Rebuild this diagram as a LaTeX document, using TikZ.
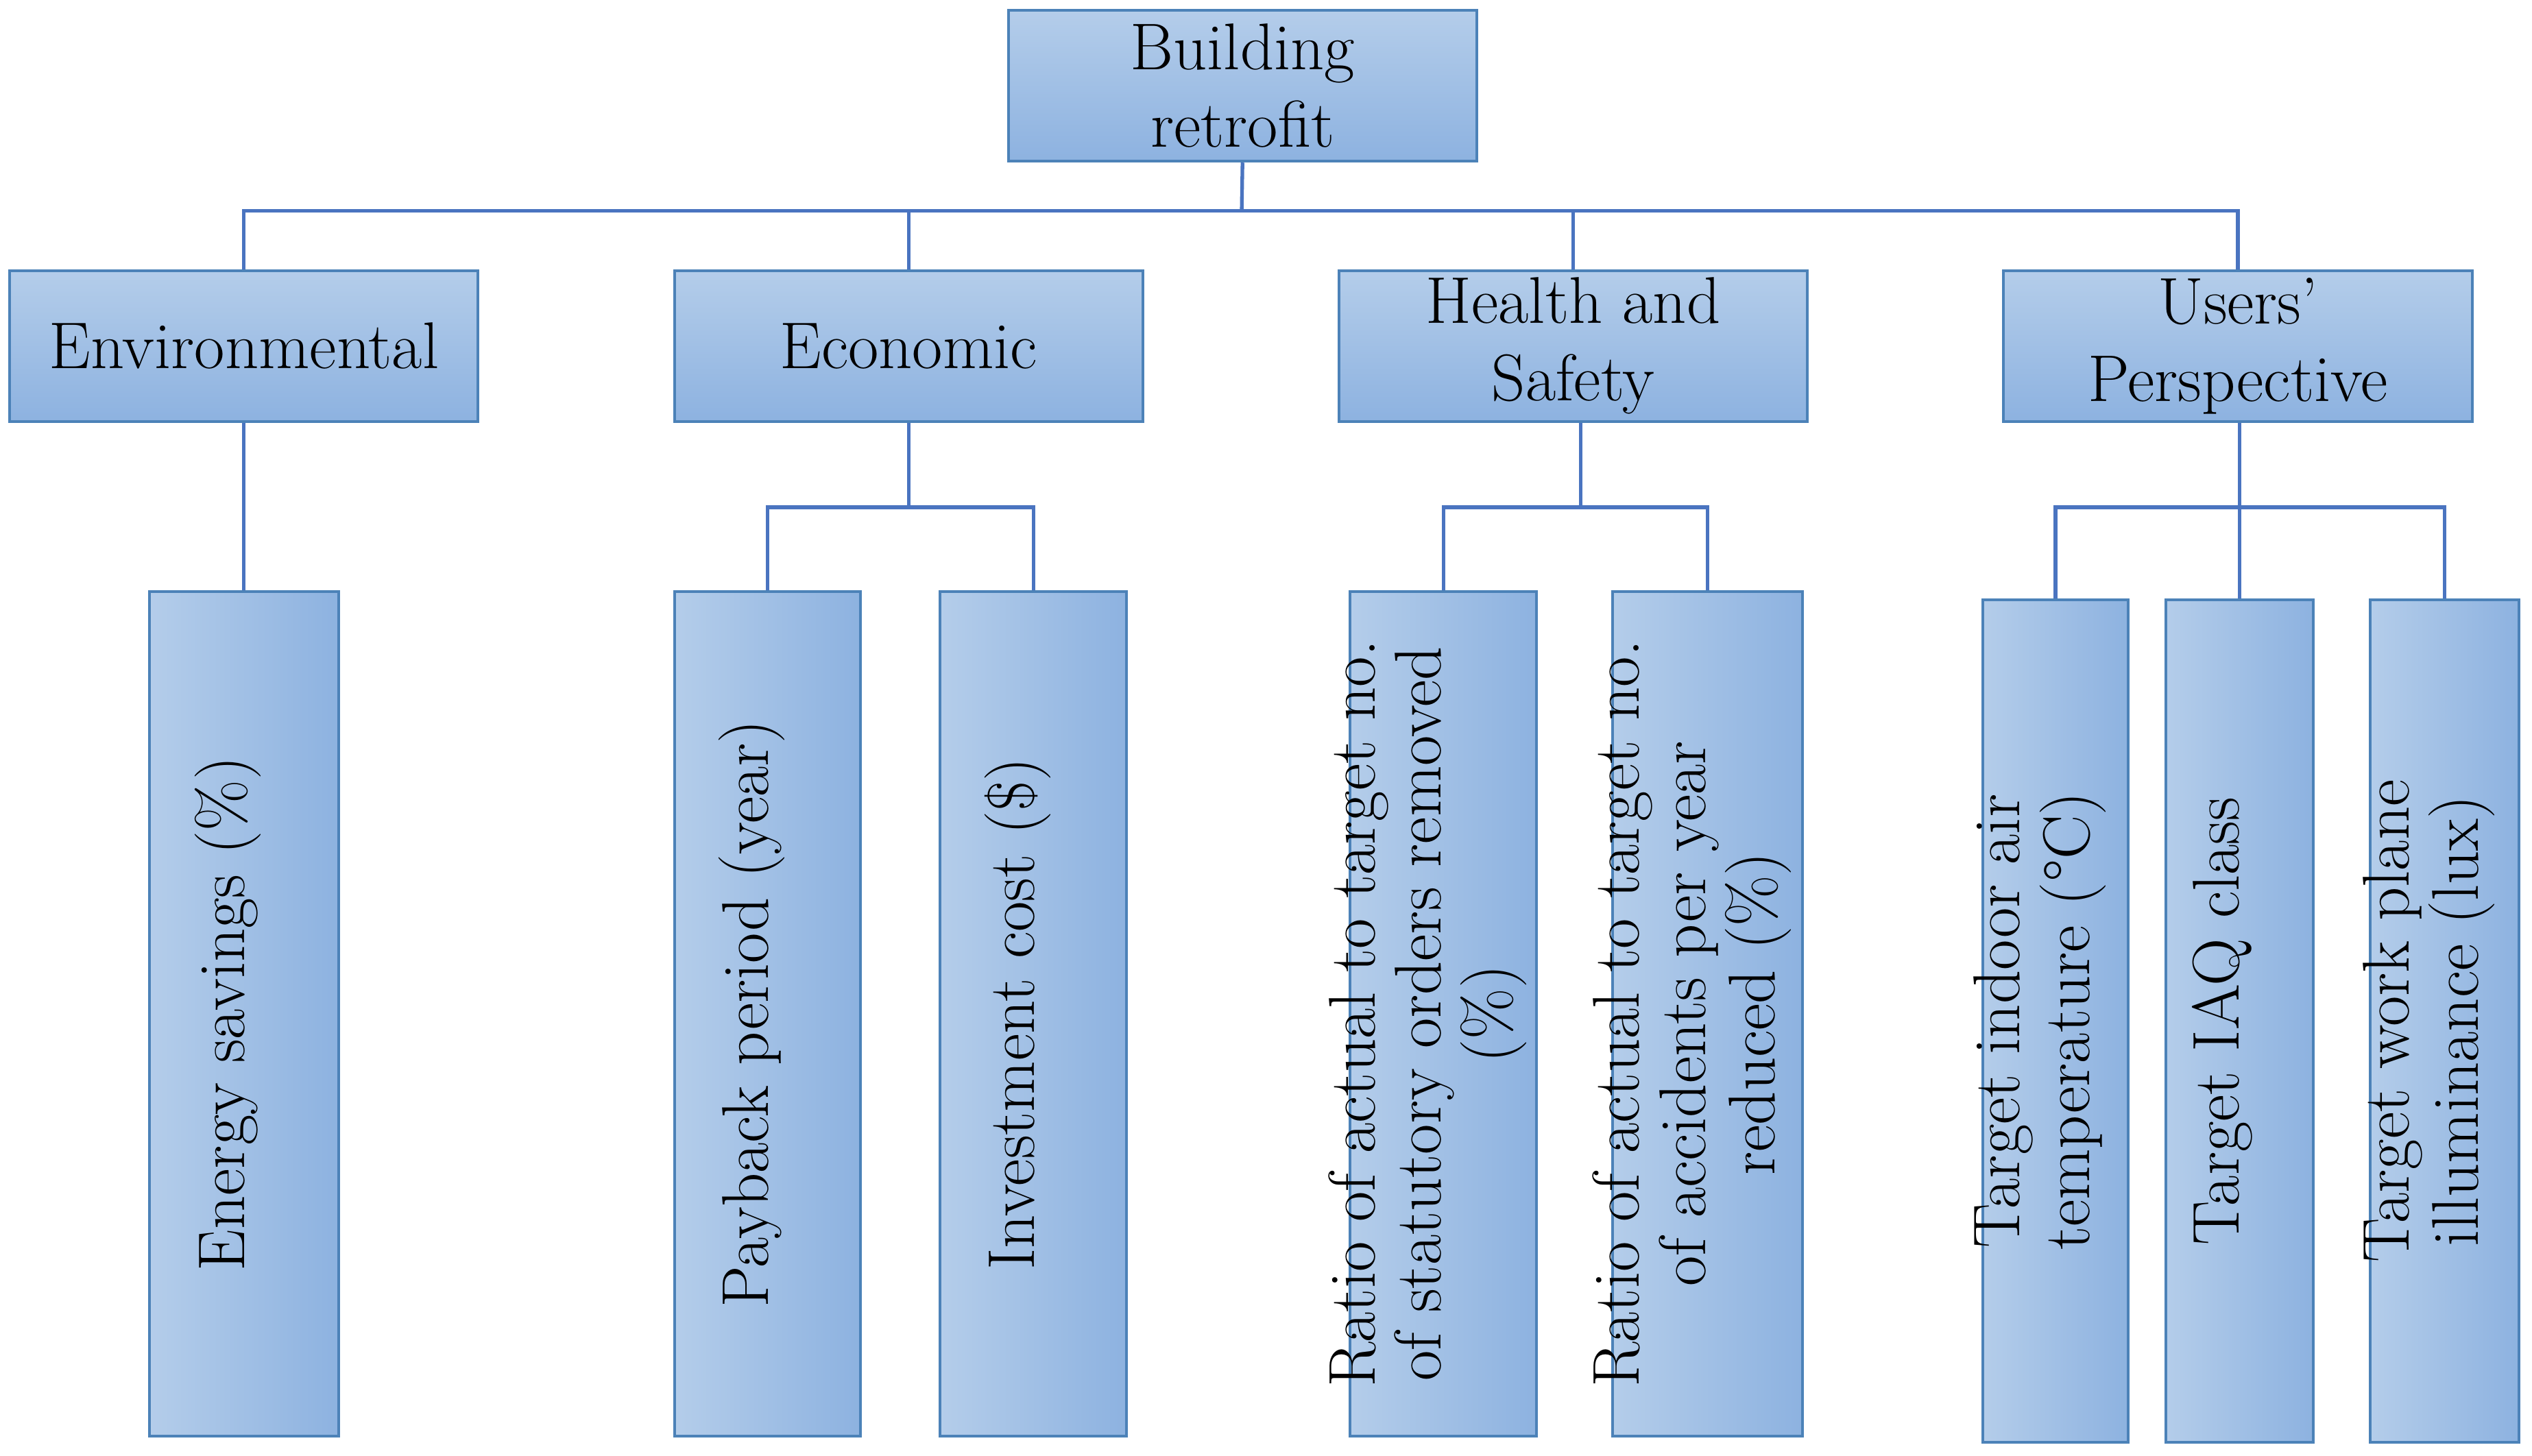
\documentclass[tikz,border=0pt]{standalone}
\newcommand\vt[1]{\smash{\begin{tabular}{@{}c@{}}#1\end{tabular}}}
\begin{document}
\fontsize{28}{32}\selectfont
\begin{tikzpicture}[x=0.025cm,y=-0.025cm,
 box/.style={draw=blue!50!cyan!60!black!70, line width=1.2pt, align=center, inner sep=0pt, font=\fontsize{29}{34}\selectfont},
 hb/.style={box, top color=boxl, bottom color=boxd, minimum width=289*0.025cm, minimum height=93*0.025cm},
 vb/.style={box, rotate=90, left color=boxl, right color=boxd, font=\fontsize{29}{29}\selectfont},
 ln/.style={draw=linec, line width=1.6pt}]
\definecolor{boxl}{HTML}{B4CDEA}
\definecolor{boxd}{HTML}{8DB2E0}
\definecolor{linec}{HTML}{4A74C0}
\useasboundingbox (0,0) rectangle (1562,898);
\node[hb] (root) at (766.5,53) {Building\\retrofit};
\node[hb] (env) at (150.5,213.5) {Environmental};
\node[hb] (eco) at (560.5,213.5) {Economic};
\node[hb] (hs) at (970.5,213.5) {Health and\\Safety};
\node[hb] (us) at (1380.5,213.5) {Users'\\Perspective};
\node[vb, minimum width=521*0.025cm, minimum height=117*0.025cm] (e1) at (150.5,625.5) {\vt{Energy savings (\%)}};
\node[vb, minimum width=521*0.025cm, minimum height=115*0.025cm] (c1) at (473.5,625.5) {\vt{Payback period (year)}};
\node[vb, minimum width=521*0.025cm, minimum height=115*0.025cm] (c2) at (637.5,625.5) {\vt{Investment cost (\$)}};
\node[vb, minimum width=521*0.025cm, minimum height=115*0.025cm] (h1) at (890.5,625.5) {\vt{Ratio of actual to target no.\\of statutory orders removed\\(\%)}};
\node[vb, minimum width=521*0.025cm, minimum height=117*0.025cm] (h2) at (1053.5,625.5) {\vt{Ratio of actual to target no.\\of accidents per year\\reduced (\%)}};
\node[vb, minimum width=520*0.025cm, minimum height=90*0.025cm] (u1) at (1268,630) {\vt{Target indoor air\\temperature (\textdegree C)}};
\node[vb, minimum width=520*0.025cm, minimum height=91*0.025cm] (u2) at (1381.5,630) {\vt{Target IAQ class}};
\node[vb, minimum width=520*0.025cm, minimum height=92*0.025cm] (u3) at (1508,630) {\vt{Target work plane\\illuminance (lux)}};
\coordinate (bus) at (766,130);
\draw[ln] (root.south) -- (bus);
\draw[ln] (env.north) |- (bus) -| (us.north);
\draw[ln] (eco.north) -- (eco.north|-bus);
\draw[ln] (hs.north) -- (hs.north|-bus);
\draw[ln] (env.south) -- (e1.east);
\coordinate (j1) at (560.5,313); \coordinate (j2) at (975,313); \coordinate (j3) at (1381.5,313);
\draw[ln] (eco.south) -- (j1);
\draw[ln] (c1.east) |- (j1) -| (c2.east);
\draw[ln] (hs.south-|j2) -- (j2);
\draw[ln] (h1.east) |- (j2) -| (h2.east);
\draw[ln] (us.south-|j3) -- (u2.east);
\draw[ln] (u1.east) |- (j3) -| (u3.east);
\end{tikzpicture}
\end{document}
